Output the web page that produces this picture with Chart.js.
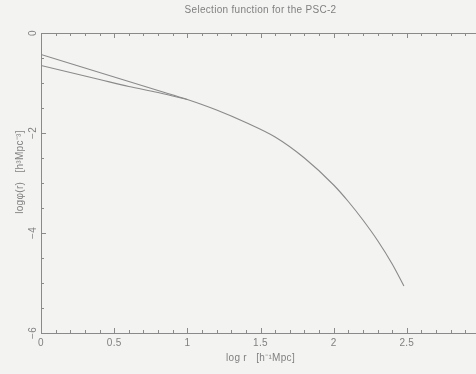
<!DOCTYPE html>
<html>
<head>
<meta charset="utf-8">
<title>Selection function for the PSC-2</title>
<style>
  html, body { margin: 0; padding: 0; overflow: hidden; background: #f3f3f2; }
  #wrap { width: 480px; height: 374px; position: relative; }
</style>
<script src="https://cdn.jsdelivr.net/npm/chart.js@4/dist/chart.umd.min.js"></script>
</head>
<body>
<div id="wrap"><canvas id="chart"></canvas></div>
<script>
// Text
const chartTitle = 'Selection function for the PSC-2';
const xTitle = 'log r   [h\u207B\u00B9Mpc]';
const yTitle = 'log\u03C6(r)   [h\u00B3Mpc\u207B\u00B3]';

// Tick labels
const xTickValues = [0, 0.5, 1, 1.5, 2, 2.5];
const xTickLabels = ['0', '0.5', '1', '1.5', '2', '2.5'];
const yTickValues = [0, -2, -4, -6];
const yTickLabels = ['0', '\u22122', '\u22124', '\u22126'];

// Selection function, full curve (log r, log phi)
const mainLogR   = [0, 0.2, 0.4, 0.6, 0.8, 1.0, 1.2, 1.4, 1.6, 1.8, 2.0, 2.1, 2.2, 2.3, 2.4, 2.48];
const mainLogPhi = [-0.43, -0.61, -0.79, -0.97, -1.15, -1.33, -1.54, -1.79, -2.08, -2.50, -3.04, -3.37, -3.74, -4.15, -4.62, -5.06];

// Alternative low-r branch joining the main curve at log r = 1
const branchLogR   = [0, 0.2, 0.4, 0.6, 0.8, 0.9, 1.0];
const branchLogPhi = [-0.65, -0.79, -0.93, -1.07, -1.19, -1.26, -1.33];

const toPoints = (xs, ys) => xs.map((x, i) => ({ x: x, y: ys[i] }));

const INK = '#808080';
const LINE = '#8a8a8a';
const FONT = '"Liberation Sans", Arial, sans-serif';

// Inward ticks, tick labels and titles drawn against the chart's scales
const framePlugin = {
  id: 'frame',
  afterDraw(chart) {
    const ctx = chart.ctx;
    const xs = chart.scales.x;
    const ys = chart.scales.y;
    const area = chart.chartArea;
    ctx.save();
    ctx.strokeStyle = LINE;
    ctx.lineWidth = 1;

    // x ticks every 0.1, bottom and top
    for (let k = 0; k <= 30; k++) {
      const v = k / 10;
      const px = Math.round(xs.getPixelForValue(v)) + 0.5;
      const len = (k % 5 === 0) ? 5 : 3;
      ctx.beginPath();
      ctx.moveTo(px, area.bottom);
      ctx.lineTo(px, area.bottom - len);
      ctx.moveTo(px, area.top);
      ctx.lineTo(px, area.top + len);
      ctx.stroke();
    }
    // y ticks every 0.5 on the left
    for (let k = 0; k <= 12; k++) {
      const v = -k / 2;
      const py = Math.round(ys.getPixelForValue(v)) + 0.5;
      const len = (k % 4 === 0) ? 5 : 3;
      ctx.beginPath();
      ctx.moveTo(area.left, py);
      ctx.lineTo(area.left + len, py);
      ctx.stroke();
    }

    ctx.fillStyle = INK;
    ctx.font = '10px ' + FONT;
    ctx.letterSpacing = '0.3px';

    // x tick labels
    ctx.textAlign = 'center';
    ctx.textBaseline = 'top';
    xTickValues.forEach((v, i) => {
      ctx.fillText(xTickLabels[i], xs.getPixelForValue(v), area.bottom + 5);
    });

    // y tick labels, rotated
    yTickValues.forEach((v, i) => {
      ctx.save();
      ctx.translate(area.left - 8, ys.getPixelForValue(v));
      ctx.rotate(-Math.PI / 2);
      ctx.textAlign = 'center';
      ctx.textBaseline = 'middle';
      ctx.fillText(yTickLabels[i], 0, 0);
      ctx.restore();
    });

    // title
    ctx.textAlign = 'center';
    ctx.textBaseline = 'middle';
    ctx.fillText(chartTitle, (area.left + area.right) / 2, 10);

    // x axis title
    ctx.fillText(xTitle, (area.left + area.right) / 2, 358);

    // y axis title
    ctx.save();
    ctx.translate(20, 172);
    ctx.rotate(-Math.PI / 2);
    ctx.fillText(yTitle, 0, 0);
    ctx.restore();

    ctx.restore();
  }
};

new Chart(document.getElementById('chart'), {
  type: 'line',
  data: {
    datasets: [
      {
        label: 'main',
        data: toPoints(mainLogR, mainLogPhi),
        borderColor: LINE,
        borderWidth: 1.1,
        pointRadius: 0,
        cubicInterpolationMode: 'monotone',
        fill: false
      },
      {
        label: 'branch',
        data: toPoints(branchLogR, branchLogPhi),
        borderColor: LINE,
        borderWidth: 1.1,
        pointRadius: 0,
        cubicInterpolationMode: 'monotone',
        fill: false
      }
    ]
  },
  options: {
    responsive: true,
    maintainAspectRatio: false,
    animation: false,
    layout: { padding: 0 },
    plugins: {
      legend: { display: false },
      title: { display: false },
      tooltip: { enabled: false }
    },
    scales: {
      x: {
        type: 'linear',
        position: 'bottom',
        min: 0,
        max: 3,
        grid: { display: false },
        ticks: { display: false },
        border: { display: true, color: LINE, width: 1 },
        afterFit(scale) { scale.height = 41; }
      },
      xTop: {
        type: 'linear',
        position: 'top',
        min: 0,
        max: 3,
        grid: { display: false },
        ticks: { display: false },
        border: { display: true, color: LINE, width: 1 },
        afterFit(scale) { scale.height = 33; }
      },
      y: {
        type: 'linear',
        position: 'left',
        min: -6,
        max: 0,
        grid: { display: false },
        ticks: { display: false },
        border: { display: true, color: LINE, width: 1 },
        afterFit(scale) { scale.width = 41; }
      }
    }
  },
  plugins: [framePlugin]
});
</script>
</body>
</html>
